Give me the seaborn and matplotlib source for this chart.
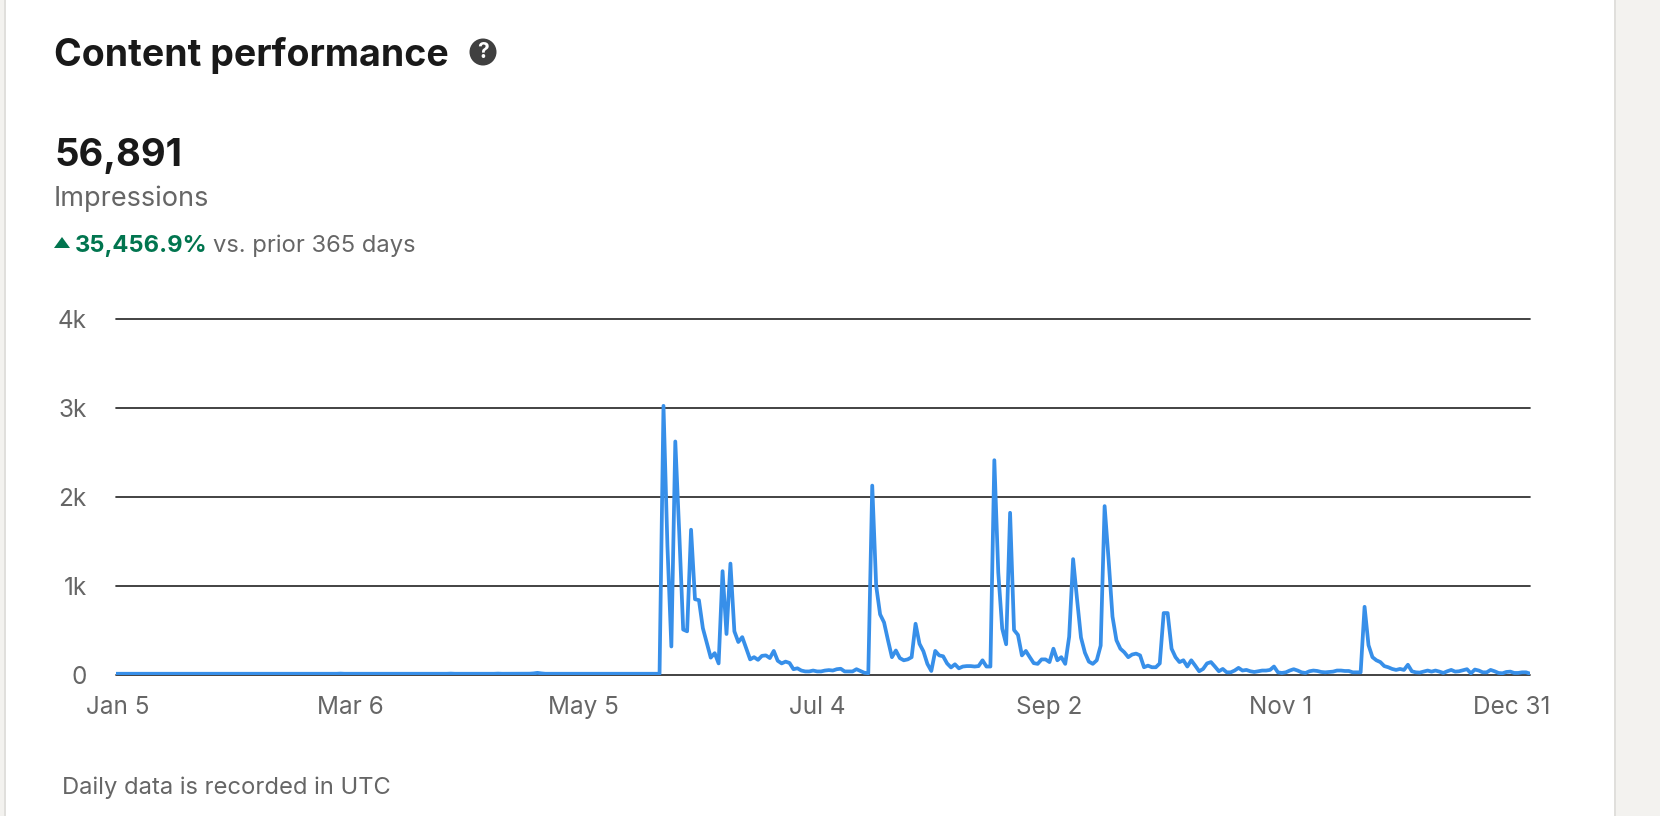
import matplotlib
matplotlib.use("Agg")
import matplotlib.pyplot as plt
import matplotlib.transforms as mtrans
import seaborn as sns
from matplotlib.patches import Rectangle, Circle, Polygon

day_index = list(range(360))
impressions_flat = [
 14,14,14,14,14,14,15,14,14,14,14,14,14,15,14,14,14,14,14,14,14,14,14,14,14,14,14,14,14,14,
 14,14,15,14,14,14,14,14,14,14,14,14,14,14,14,14,14,14,14,14,14,14,14,14,14,14,14,16,14,14,
 14,14,14,14,14,14,14,14,14,14,14,14,14,14,14,14,14,14,14,14,14,14,14,14,14,16,14,14,14,14,
 14,14,14,14,14,14,14,16,14,14,14,14,14,14,14,15,18,24,18,14,14,14,14,14,14,14,14,14,14,14,
 14,14,14,14,14,14,14,14,14,14,14,14,14,14,14,14,14,14,14]
impressions_active = [
 3020,1450,320,2620,1600,510,490,1630,850,840,525,360,195,245,130,1165,460,1250,490,370,
 425,300,175,200,170,215,220,190,270,160,130,150,135,65,75,50,40,40,50,40,40,50,55,50,
 65,70,40,40,40,65,45,25,20,2125,1000,680,590,390,200,275,190,165,175,200,575,350,265,125,
 45,270,220,210,130,85,120,75,95,100,100,95,100,165,95,95,2410,1150,520,345,1820,505,
 450,220,270,200,133,125,175,175,145,295,165,200,125,430,1300,850,420,250,150,125,165,330,
 1895,1300,655,390,295,255,200,230,240,220,87,105,87,87,130,695,695,295,200,145,165,95,165,
 105,42,68,130,145,95,42,68,30,30,50,80,50,57,42,34,42,50,50,57,95,30,23,30,50,65,50,30,23,
 42,50,45,34,30,34,38,50,50,45,45,30,30,30,765,335,200,165,145,100,87,68,57,68,57,115,42,
 30,27,38,50,38,50,38,23,42,57,38,42,53,65,19,61,50,30,30,57,42,23,19,34,38,23,23,30,30,15]
impressions = impressions_flat + impressions_active
n = min(len(day_index), len(impressions))
x_labels = ["Jan 5", "Mar 6", "May 5", "Jul 4", "Sep 2", "Nov 1", "Dec 31"]
tick_days = [0.4, 59.6, 118.8, 178.0, 236.9, 295.6, 354.4]
y_ticks = [0, 1000, 2000, 3000, 4000]
y_labels = ["0", "1k", "2k", "3k", "4k"]

W, H = 1660, 816
sns.set_theme(style="white")
plt.rcParams["font.family"] = ["Inter", "DejaVu Sans"]

fig = plt.figure(figsize=(W / 100, H / 100), dpi=100, facecolor="white")
def fx(p): return p / W
def fy(p): return 1 - p / H

fig.patches.append(Rectangle((0, 0), fx(5), 1, transform=fig.transFigure, fc="#f3f2ef", ec="none"))
fig.patches.append(Rectangle((fx(4), 0), fx(1.5), 1, transform=fig.transFigure, fc="#e0dfdc", ec="none"))
fig.patches.append(Rectangle((fx(1616), 0), fx(44), 1, transform=fig.transFigure, fc="#f3f2ef", ec="none"))
fig.patches.append(Rectangle((fx(1614), 0), fx(2), 1, transform=fig.transFigure, fc="#e0dfdc", ec="none"))

ax = fig.add_axes([fx(116), fy(675), fx(1530 - 116), (675 - 318.5) / H])
ax.set_facecolor("none")
sns.lineplot(x=day_index[:n], y=impressions[:n], ax=ax, color="#378fe9", linewidth=2.7,
             zorder=3, errorbar=None, estimator=None)
ax.set_xlim(0, 359)
ax.set_ylim(0, 4000)
ax.set_yticks(y_ticks, y_labels)
ax.set_xticks(tick_days, x_labels)
ax.grid(axis="y", color="#2b2b2b", linewidth=1.25, zorder=1)
ax.grid(axis="x", visible=False)
ax.set_axisbelow(True)
for s in ax.spines.values():
    s.set_visible(False)
ax.tick_params(axis="x", length=0, pad=15, labelsize=17.5, labelcolor="#666666")
ax.tick_params(axis="y", length=0, pad=21, labelsize=17.5, labelcolor="#666666")
for gl in ax.get_ygridlines():
    gl.set_clip_on(False)
shift = mtrans.ScaledTranslation(0, -0.5 / 100, fig.dpi_scale_trans)
for lab in ax.get_yticklabels():
    lab.set_transform(lab.get_transform() + shift)

fig.text(fx(54), fy(66.5), "Content performance", fontsize=27, fontweight="bold", color="#191919", va="baseline")
fig.text(fx(54), fy(166), "56,891", fontsize=27.5, fontweight="bold", color="#191919", va="baseline")
fig.text(fx(54), fy(206), "Impressions", fontsize=19.5, color="#666666", va="baseline")
fig.text(fx(75), fy(252), "35,456.9%", fontsize=17.1, fontweight="bold", color="#01754f", va="baseline")
fig.text(fx(213), fy(252), "vs. prior 365 days", fontsize=17.1, color="#666666", va="baseline")
fig.text(fx(62), fy(794), "Daily data is recorded in UTC", fontsize=17.1, color="#666666", va="baseline")

fig.patches.append(Polygon([(fx(54), fy(248)), (fx(70), fy(248)), (fx(62), fy(237))],
                           transform=fig.transFigure, fc="#01754f", ec="none"))
icon = fig.add_axes([fx(468), fy(67), fx(30), 30 / H])
icon.set_xlim(0, 30); icon.set_ylim(0, 30); icon.axis("off")
icon.add_patch(Circle((15, 15), 13.5, fc="#404040", ec="none"))
icon.text(15, 14.5, "?", ha="center", va="center", color="white", fontsize=15, fontweight="bold")

fig.savefig("out.png", dpi=100, facecolor="white")
